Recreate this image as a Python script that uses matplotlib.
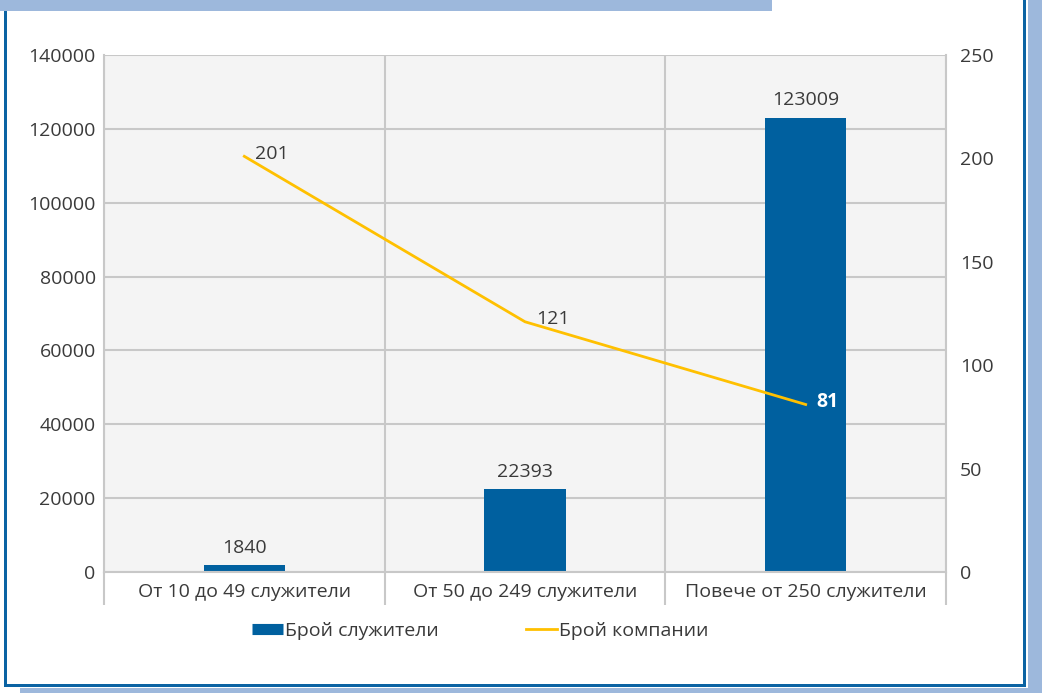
import matplotlib.pyplot as plt
from matplotlib.lines import Line2D
from matplotlib.patches import Rectangle

categories = ['От 10 до 49 служители', 'От 50 до 249 служители', 'Повече от 250 служители']
employees = [1840, 22393, 123009]
companies = [201, 121, 81]

BAR_COLOR = '#00609f'
LINE_COLOR = '#ffc000'
GRID_COLOR = '#c8c8c8'
TEXT_COLOR = '#3a3a3a'
FRAME_DARK = '#0b63a3'
FRAME_LIGHT = '#9db8dc'

plt.rcParams['font.family'] = ['Open Sans', 'DejaVu Sans']
plt.rcParams['font.size'] = 14

W, H = 1042, 693
fig = plt.figure(figsize=(W / 100, H / 100), dpi=100)


def px_rect(x0, y0, x1, y1, color):
    # rectangle given in pixel coordinates measured from the top-left corner
    fig.patches.append(Rectangle((x0 / W, 1 - y1 / H), (x1 - x0) / W, (y1 - y0) / H,
                                 transform=fig.transFigure, color=color, lw=0, zorder=0))


# page frame
px_rect(0, 0, 772, 11, FRAME_LIGHT)
px_rect(1028, 0, 1042, 693, FRAME_LIGHT)
px_rect(20, 688, 1042, 693, FRAME_LIGHT)
px_rect(4, 11, 7, 687, FRAME_DARK)
px_rect(1023, 0, 1026, 687, FRAME_DARK)
px_rect(4, 684, 1026, 687, FRAME_DARK)

ax = fig.add_axes([104 / W, 1 - 572 / H, (946 - 104) / W, (572 - 55) / H])
ax.set_facecolor('#f4f4f4')
ax.set_axisbelow(True)

x = range(len(categories))
bars = ax.bar(x, employees, width=0.29, color=BAR_COLOR, zorder=2)
ax.bar_label(bars, labels=[str(v) for v in employees], padding=6, color=TEXT_COLOR, fontsize=14)

ax.set_xlim(-0.5, len(categories) - 0.5)
ax.set_ylim(0, 140000)
ax.set_yticks(range(0, 140001, 20000))
ax.set_xticks(list(x))
ax.set_xticklabels(categories, color=TEXT_COLOR)
ax.set_xticks([i - 0.5 for i in range(len(categories) + 1)], minor=True)
ax.tick_params(axis='x', which='major', length=0, pad=8)
ax.tick_params(axis='x', which='minor', length=24, width=1.5, color=GRID_COLOR)
ax.tick_params(axis='y', length=0, pad=6, labelcolor=TEXT_COLOR)
ax.grid(axis='y', color=GRID_COLOR, lw=1.5)
ax.grid(axis='x', which='minor', color=GRID_COLOR, lw=1.5)
for side in ['top', 'bottom', 'left', 'right']:
    ax.spines[side].set_color(GRID_COLOR)
    ax.spines[side].set_linewidth(1.5)
ax.spines['top'].set_visible(False)

ax2 = ax.twinx()
ax2.plot(list(x), companies, color=LINE_COLOR, lw=2, zorder=3)
ax2.set_ylim(0, 250)
ax2.set_yticks(range(0, 251, 50))
ax2.tick_params(axis='y', length=0, pad=10, labelcolor=TEXT_COLOR)
for side in ['top', 'bottom', 'left', 'right']:
    ax2.spines[side].set_visible(False)

for i, v in enumerate(companies):
    last = i == len(companies) - 1
    ax2.annotate(str(v), (i, v), xytext=(8, 2), textcoords='offset points',
                 ha='left', va='center', fontsize=14,
                 color='white' if last else TEXT_COLOR,
                 fontweight='bold' if last else 'normal')

handles = [
    Line2D([], [], color=BAR_COLOR, lw=8, solid_capstyle='butt'),
    Line2D([], [], color=LINE_COLOR, lw=2),
]
fig.legend(handles, ['Брой служители', 'Брой компании'], loc='center',
           bbox_to_anchor=(480 / W, 1 - 631 / H), ncol=2, frameon=False,
           handlelength=1.6, handletextpad=0.1, columnspacing=4.5,
           labelcolor=TEXT_COLOR, fontsize=14)

fig.savefig('out.png', dpi=100)
